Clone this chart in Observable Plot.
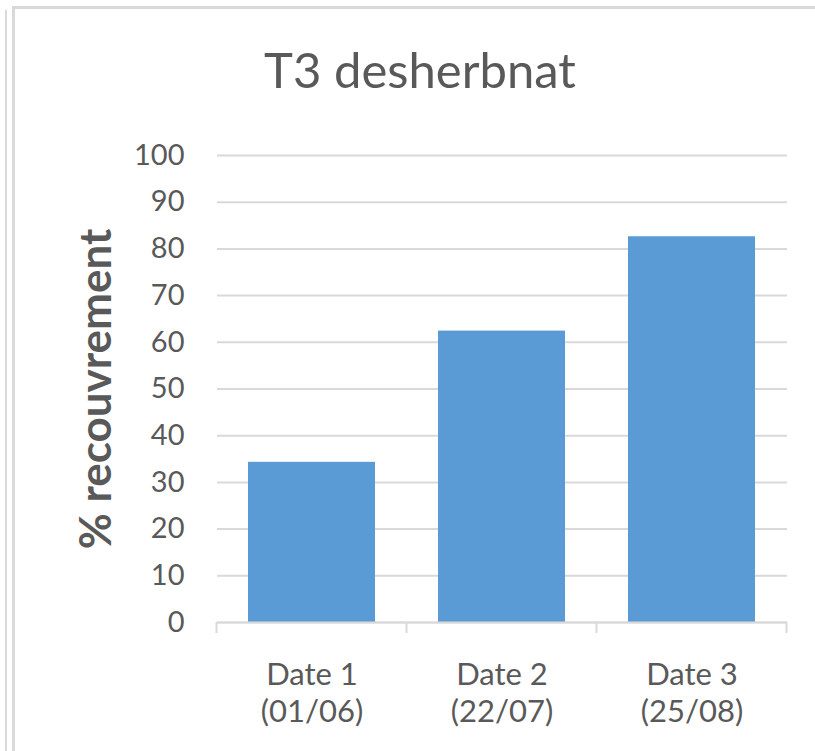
<!DOCTYPE html>
<html><head><meta charset="utf-8">
<script src="https://cdn.jsdelivr.net/npm/d3@7"></script>
<script src="https://cdn.jsdelivr.net/npm/@observablehq/plot@0.6"></script>
<style>
body{margin:0;background:#fff;}
#wrap{position:relative;width:815px;height:751px;overflow:hidden;font-family:Lato,sans-serif;background:#fff;}
.b{position:absolute;background:#d9d9d9;}
#chart{position:absolute;left:0;top:0;}
#title{position:absolute;left:0;width:840px;top:40px;text-align:center;font-size:49px;color:#595959;line-height:normal;z-index:2;}
</style></head>
<body>
<div id="wrap">
  <div class="b" style="left:5px;top:10px;width:2px;height:760px;"></div>
  <div class="b" style="left:12px;top:6px;width:3px;height:760px;"></div>
  <div class="b" style="left:12px;top:6px;width:810px;height:3px;"></div>
  <div id="chart"></div>
  <div id="title">T3 desherbnat</div>
</div>
<script>
const title = "T3 desherbnat";
const yLabel = "% recouvrement";
const dateNames = ["Date 1", "Date 2", "Date 3"];
const dateDays = ["(01/06)", "(22/07)", "(25/08)"];
const values = [34.3, 62.4, 82.6];
const yTicks = [0, 10, 20, 30, 40, 50, 60, 70, 80, 90, 100];

document.getElementById("title").textContent = title;
const categories = dateNames.map((d, i) => d + "\n" + dateDays[i]);
const data = categories.map((c, i) => ({cat: c, value: values[i]}));

const plot = Plot.plot({
  width: 815,
  height: 751,
  marginTop: 155,
  marginBottom: 129,
  marginLeft: 217,
  marginRight: 28,
  style: {fontFamily: "Lato, sans-serif", color: "#595959", background: "transparent", overflow: "visible"},
  x: {domain: categories, paddingInner: 0.33, paddingOuter: 0.165, axis: null},
  y: {domain: [0, 100], axis: null},
  marks: [
    Plot.gridY(yTicks, {stroke: "#d9d9d9", strokeOpacity: 1, strokeWidth: 2}),
    Plot.barY(data, {x: "cat", y: "value", fill: "#5b9bd5"}),
    Plot.ruleY([0], {stroke: "#d9d9d9", strokeWidth: 2}),
    Plot.axisY(yTicks, {tickSize: 0, tickPadding: 33, fontSize: 29, fill: "#595959", label: null}),
    Plot.axisX({tickSize: 0, tickPadding: 36, fontSize: 31, lineHeight: 1.2, fill: "#595959", label: null}),
    Plot.text([yLabel], {text: d => d, frameAnchor: "left", textAnchor: "middle", rotate: -90, dx: -121, fontSize: 44, fontWeight: "bold", fill: "#595959"})
  ]
});
document.getElementById("chart").appendChild(plot);

// category boundary tick marks on the x axis, placed via the band scale
const xs = plot.scale("x");
const ys = plot.scale("y");
const gap = (xs.step - xs.bandwidth) / 2;
const edges = categories.map(c => xs.apply(c) - gap);
edges.push(xs.apply(categories[categories.length - 1]) + xs.bandwidth + gap);
const y0 = ys.apply(0);
d3.select(plot).append("g")
  .selectAll("line").data(edges).join("line")
  .attr("x1", d => d).attr("x2", d => d)
  .attr("y1", y0).attr("y2", y0 + 11)
  .attr("stroke", "#d9d9d9").attr("stroke-width", 2);
</script>
</body></html>
